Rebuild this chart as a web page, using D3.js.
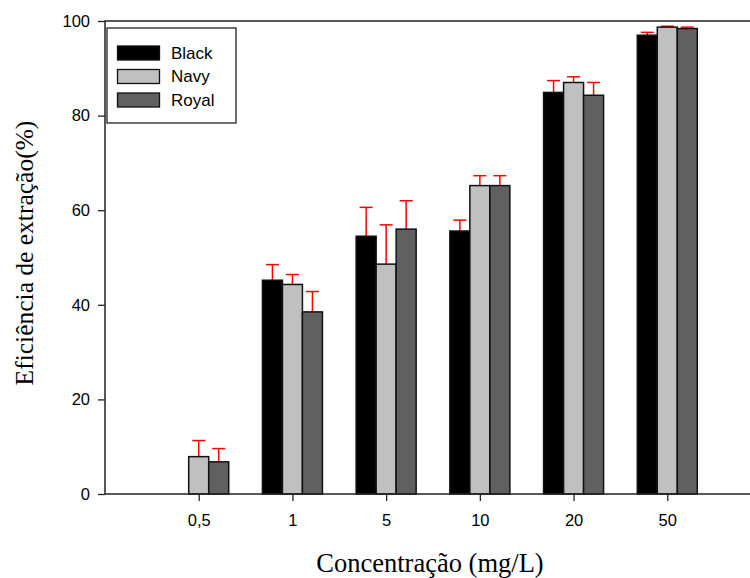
<!DOCTYPE html>
<html>
<head>
<meta charset="utf-8">
<script src="https://cdn.jsdelivr.net/npm/d3@7"></script>
<style>
  html, body { margin: 0; padding: 0; background: #fff; }
  svg { display: block; }
</style>
</head>
<body>
<svg id="chart" width="750" height="578"></svg>
<script>
// Concentration groups and the three dye series
const categories = ["0,5", "1", "5", "10", "20", "50"];
const seriesNames = ["Black", "Navy", "Royal"];
const seriesColors = ["#000000", "#c0c0c0", "#606060"];

// Mean extraction efficiency (%) per series
const blackValues = [0, 45.2, 54.5, 55.6, 84.9, 97.0];
const navyValues  = [7.9, 44.3, 48.6, 65.2, 87.0, 98.7];
const royalValues = [6.8, 38.5, 56.0, 65.2, 84.3, 98.4];

// Standard deviation (upper error bar) per series
const blackErrors = [0, 3.3, 6.1, 2.3, 2.5, 0.6];
const navyErrors  = [3.4, 2.1, 8.3, 2.1, 1.2, 0.2];
const royalErrors = [2.8, 4.3, 6.0, 2.1, 2.7, 0.3];

const yTicks = [0, 20, 40, 60, 80, 100];

const seriesValues = [blackValues, navyValues, royalValues];
const seriesErrors = [blackErrors, navyErrors, royalErrors];

const svg = d3.select("#chart");
const plotLeft = 105, plotTop = 21, plotBottom = 494;
const plotRight = 761; // frame continues past the visible edge

const sansFont = "'Liberation Sans', Arial, sans-serif";
const serifFont = "'Liberation Serif', 'Times New Roman', serif";

// categories sit at positions 1..6 on a 0..7 axis
const x = d3.scaleLinear().domain([0, categories.length + 1]).range([plotLeft, plotRight]);
const y = d3.scaleLinear().domain([0, 100]).range([plotBottom, plotTop]);
const inner = d3.scaleBand().domain(seriesNames).range([-30, 30]).padding(0);

const data = [];
categories.forEach((c, i) => {
  seriesNames.forEach((s, j) => {
    data.push({ cat: c, idx: i, series: s, sIdx: j, value: seriesValues[j][i], err: seriesErrors[j][i] });
  });
});
const shown = data.filter(d => d.value > 0);

// error bars (drawn first so bars overlap their base)
const eb = svg.append("g").attr("stroke", "#ff0000").attr("stroke-width", 1.5);
shown.forEach(d => {
  const cx = x(d.idx + 1) + inner(d.series) + inner.bandwidth() / 2;
  eb.append("line").attr("x1", cx).attr("x2", cx).attr("y1", y(d.value)).attr("y2", y(d.value + d.err));
  eb.append("line").attr("x1", cx - 6.5).attr("x2", cx + 6.5).attr("y1", y(d.value + d.err)).attr("y2", y(d.value + d.err));
});

// bars
svg.append("g").selectAll("rect").data(shown).join("rect")
  .attr("x", d => x(d.idx + 1) + inner(d.series))
  .attr("y", d => y(d.value))
  .attr("width", inner.bandwidth())
  .attr("height", d => y(0) - y(d.value))
  .attr("fill", d => seriesColors[d.sIdx])
  .attr("stroke", "#111")
  .attr("stroke-width", 1.5);

// frame
svg.append("rect")
  .attr("x", plotLeft).attr("y", plotTop)
  .attr("width", plotRight - plotLeft).attr("height", plotBottom - plotTop)
  .attr("fill", "none").attr("stroke", "#222").attr("stroke-width", 1.5);

// y axis
const yAxis = d3.axisLeft(y).tickValues(yTicks).tickSize(7).tickSizeOuter(0).tickPadding(8);
const gy = svg.append("g").attr("transform", `translate(${plotLeft},0)`).call(yAxis);
gy.select(".domain").remove();
gy.selectAll("line").attr("stroke", "#222").attr("stroke-width", 1.3);
gy.selectAll("text").attr("font-family", sansFont).attr("font-size", 16.5).attr("fill", "#000");

// x axis
const xAxis = d3.axisBottom(x).tickValues(d3.range(1, categories.length + 1))
  .tickFormat(i => categories[i - 1]).tickSize(7).tickSizeOuter(0).tickPadding(13);
const gx = svg.append("g").attr("transform", `translate(0,${plotBottom})`).call(xAxis);
gx.select(".domain").remove();
gx.selectAll("line").attr("stroke", "#222").attr("stroke-width", 1.3);
gx.selectAll("text").attr("font-family", sansFont).attr("font-size", 16.5).attr("fill", "#000");

// axis titles
svg.append("text")
  .attr("x", 430).attr("y", 572)
  .attr("text-anchor", "middle")
  .attr("font-family", serifFont)
  .attr("font-size", 26.5)
  .text("Concentração (mg/L)");

svg.append("text")
  .attr("transform", "translate(33,253) rotate(-90)")
  .attr("text-anchor", "middle")
  .attr("font-family", serifFont)
  .attr("font-size", 25.5)
  .text("Eficiência de extração(%)");

// legend
const lg = svg.append("g");
lg.append("rect").attr("x", 107).attr("y", 28).attr("width", 129).attr("height", 95)
  .attr("fill", "#fff").attr("stroke", "#222").attr("stroke-width", 1.3);
seriesNames.forEach((s, j) => {
  const cy = 53 + j * 23.5;
  lg.append("rect").attr("x", 117.5).attr("y", cy - 7).attr("width", 42).attr("height", 14)
    .attr("fill", seriesColors[j]).attr("stroke", "#111").attr("stroke-width", 1.3);
  lg.append("text").attr("x", 171).attr("y", cy).attr("dy", "0.35em")
    .attr("font-family", sansFont).attr("font-size", 17)
    .text(s);
});
</script>
</body>
</html>
